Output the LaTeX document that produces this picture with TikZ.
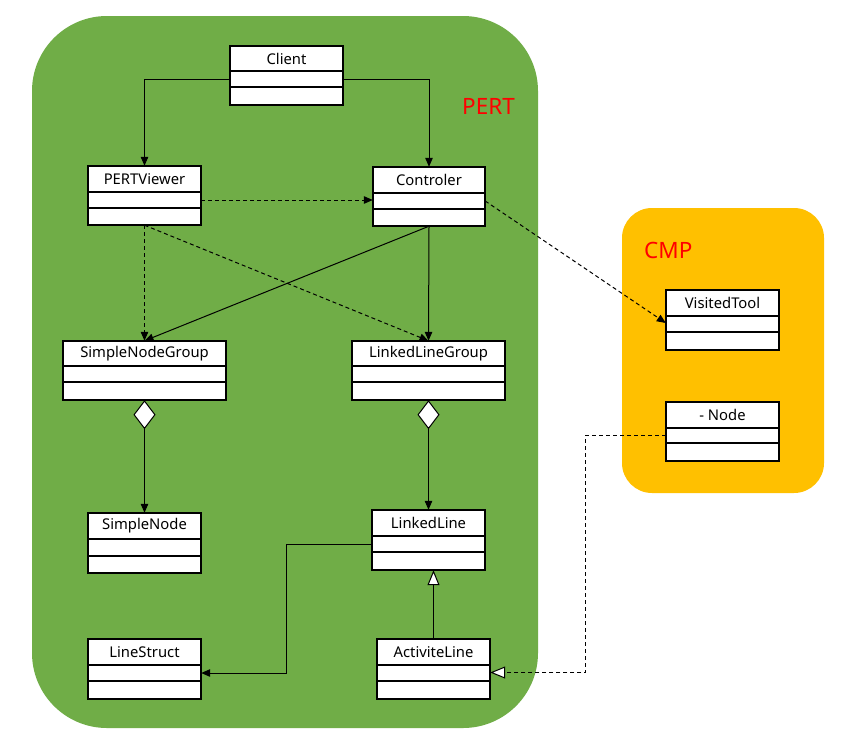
\documentclass[tikz,border=0pt]{standalone}
\usepackage{fontspec}
\setmainfont{Noto Sans}
\usetikzlibrary{arrows.meta,fit,calc}
\definecolor{pgreen}{HTML}{70AD47}
\definecolor{corange}{HTML}{FFC000}
\tikzset{
  clsline/.style={line width=1.1pt},
  clstext/.style={font=\fontsize{14.8}{17}\selectfont, inner sep=0pt, anchor=center},
  conn/.style={line width=1pt, -{Triangle[length=9pt,width=7.5pt]}},
  dep/.style={conn, dash pattern=on 4pt off 3pt},
  gen/.style={line width=1pt, -{Triangle[open,fill=white,length=15pt,width=12pt]}},
  gendep/.style={gen, dash pattern=on 4pt off 3pt},
  comp/.style={line width=1pt, {Diamond[fill=white,length=29pt,width=22pt,line width=1pt]}-{Triangle[length=9pt,width=7.5pt]}},
  pkglabel/.style={text=red, font=\fontsize{22.5}{26}\selectfont, anchor=west, inner sep=0pt},
}
% name, left, top, right, bottom, line1, line2, text
\newcommand\classbox[8]{%
  \draw[clsline, fill=white] (#2,#3) rectangle (#4,#5);
  \draw[clsline] (#2,#6) -- (#4,#6);
  \draw[clsline] (#2,#7) -- (#4,#7);
  \node[inner sep=0pt, fit={(#2,#3)(#4,#5)}] (#1) {};
  \node[clstext] (#1-t) at ({(#2+#4)/2},{(#3+#6)/2}) {#8};
}
\begin{document}
\begin{tikzpicture}[x=1pt,y=-1pt]
\useasboundingbox (0,0) rectangle (861,739);
\fill[white] (0,0) rectangle (861,739);
% packages
\fill[pgreen, rounded corners=75pt] (32,16) rectangle (538,728);
\fill[corange, rounded corners=30pt] (622,208) rectangle (824,493);
\node[pkglabel] (pert) at (462,106) {PERT};
\node[pkglabel] (cmpl) at (644,250) {CMP};
% classes
\classbox{client}{230}{46}{343}{105}{71}{87}{Client}
\classbox{pv}{88}{166}{201}{225}{192}{208}{PERTViewer}
\classbox{ctl}{373}{167}{485}{226}{193}{209}{Controler}
\classbox{sng}{63}{341}{226}{400}{366}{382}{SimpleNodeGroup}
\classbox{llg}{352}{341}{505}{400}{366}{382}{LinkedLineGroup}
\classbox{sn}{88}{513}{201}{573}{539}{556}{SimpleNode}
\classbox{ll}{372}{510}{485}{570}{536}{552}{LinkedLine}
\classbox{ls}{88}{639}{201}{699}{665}{681}{LineStruct}
\classbox{al}{377}{639}{490}{699}{665}{681}{ActiviteLine}
\classbox{vt}{666}{290}{779}{350}{316}{332}{VisitedTool}
\classbox{nd}{666}{402}{779}{461}{428}{443}{- Node}
% connectors
\draw[conn] ([yshift=-3.5pt]client.west) -| (pv.north);
\draw[conn] ([yshift=-3.5pt]client.east) -| (ctl.north);
\draw[dep] ([yshift=-4.5pt]pv.east) -- ([yshift=-3.5pt]ctl.west);
\draw[dep] (pv.south) -- (sng.north);
\draw[dep] (pv.south) -- (llg.north);
\draw[conn] (ctl.south) -- (sng.north);
\draw[conn] (ctl.south) -- (llg.north);
\draw[dep] ([yshift=-4.5pt]ctl.east) -- ([yshift=-3pt]vt.west);
\draw[comp] (sng.south) -- (sn.north);
\draw[comp] (llg.south) -- (llg.south |- ll.north);
\draw[conn] ([yshift=-4pt]ll.west) -- ++(-85,0) |- ([yshift=-4pt]ls.east);
\draw[gen] (al.north) -- (al.north |- ll.south);
\draw[gendep] ([yshift=-3.5pt]nd.west) -- ++(-80,0) |- ([yshift=-3.5pt]al.east);
\end{tikzpicture}
\end{document}
